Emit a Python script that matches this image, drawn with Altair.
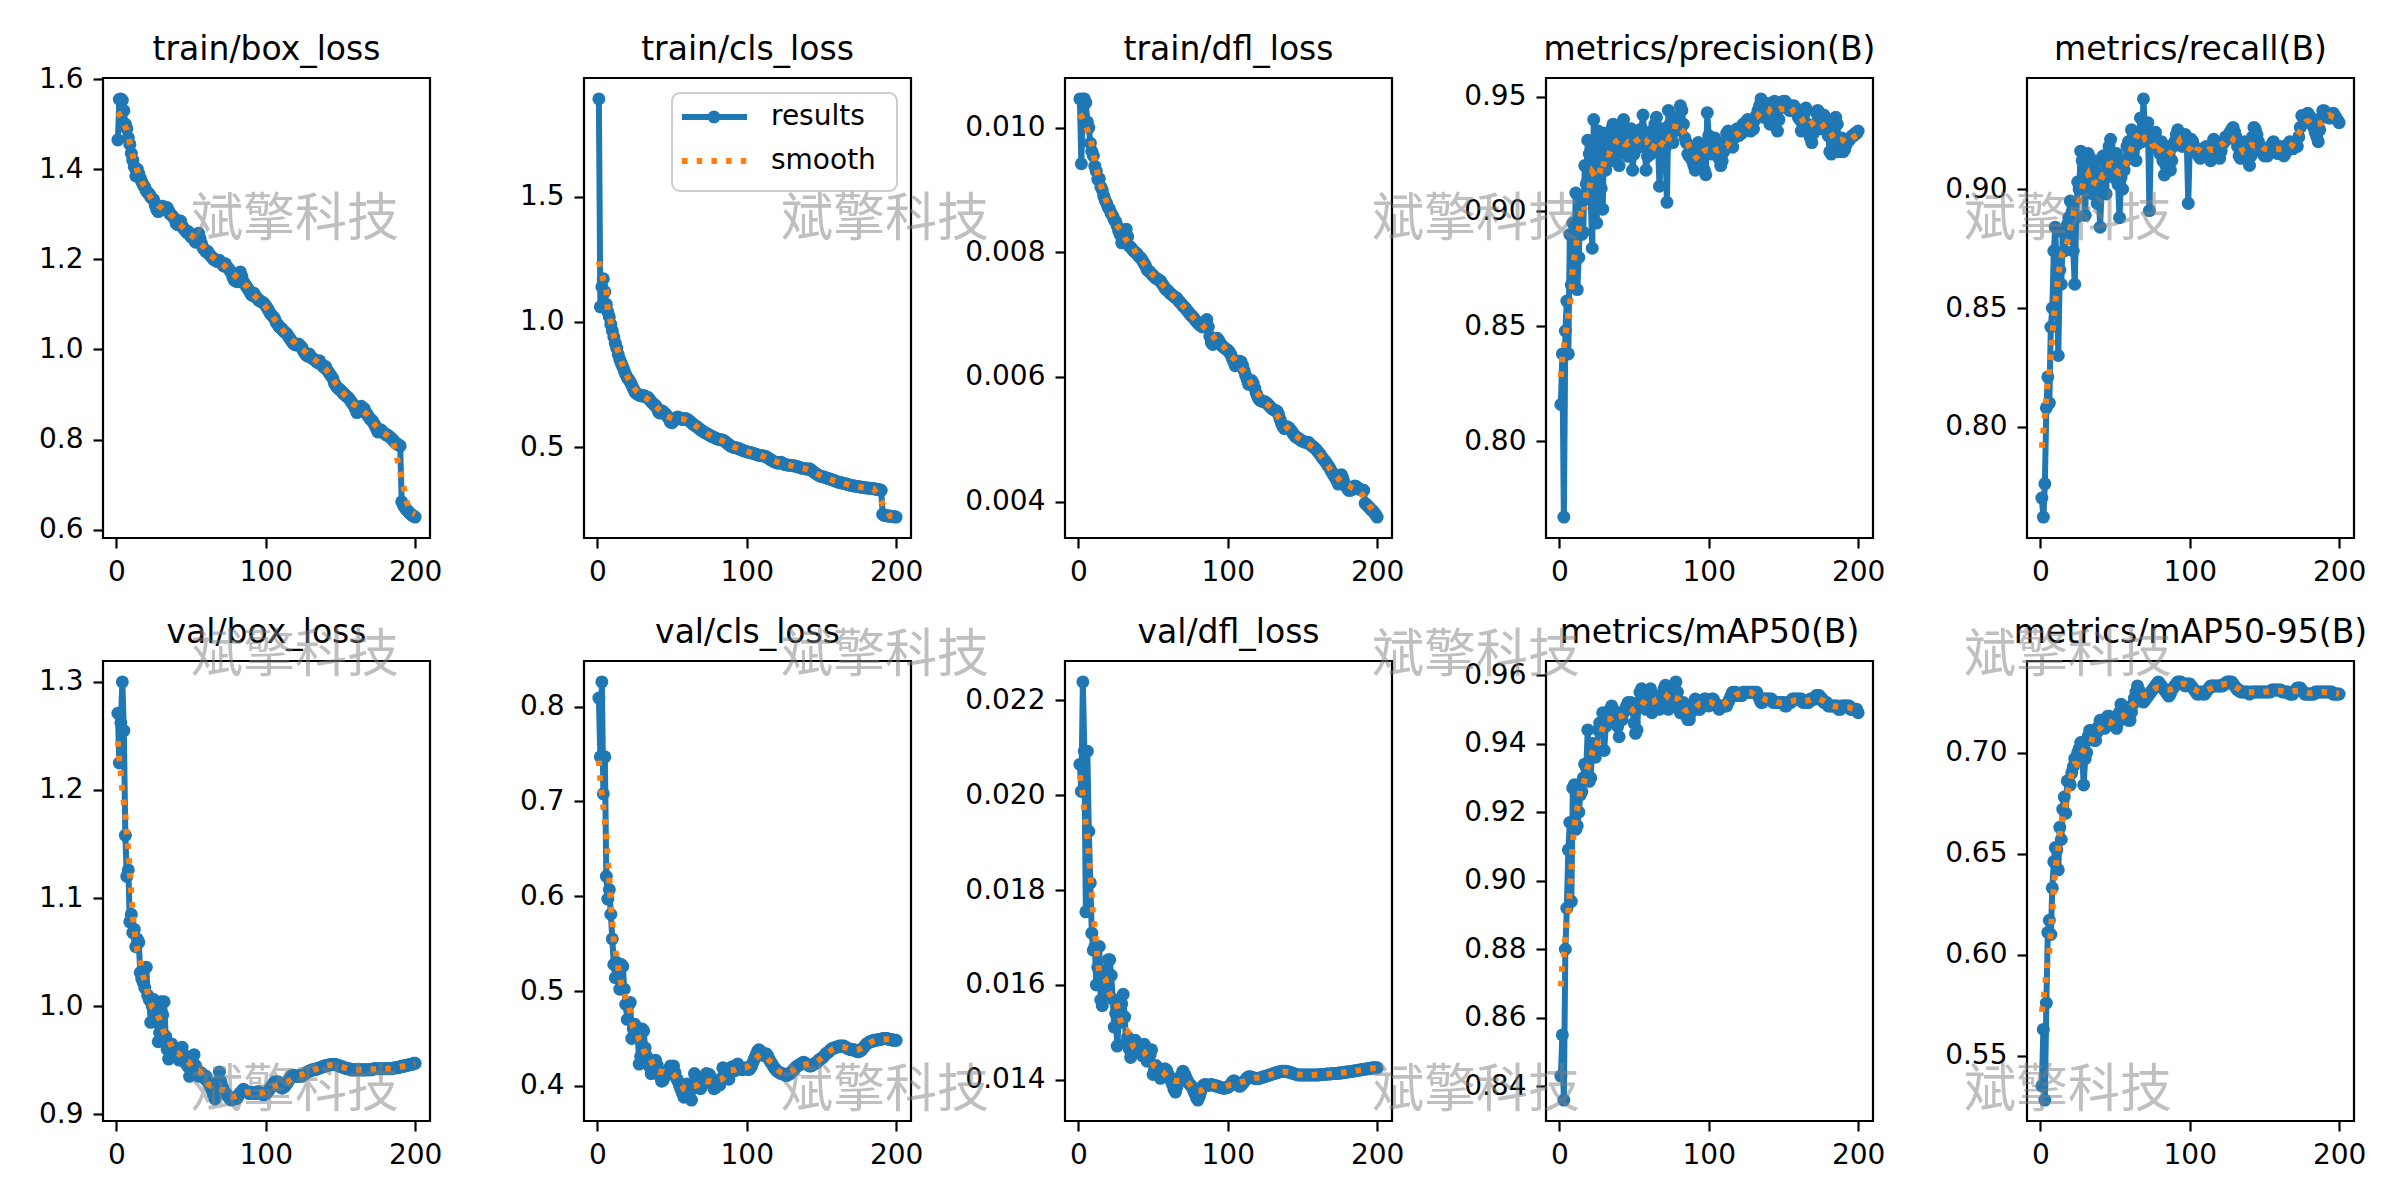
import altair as alt
import pandas as pd

epochs = list(range(1, 201))

train_box = [
    1.465, 1.555, 1.556, 1.553, 1.530, 1.500, 1.490, 1.470, 1.455, 1.435,
    1.420, 1.405, 1.385, 1.400, 1.390, 1.380, 1.372, 1.365, 1.360, 1.352,
    1.348, 1.345, 1.338, 1.335, 1.332, 1.320, 1.310, 1.306, 1.312, 1.318,
    1.318, 1.312, 1.310, 1.315, 1.308, 1.300, 1.298, 1.294, 1.290, 1.280,
    1.277, 1.285, 1.285, 1.275, 1.268, 1.265, 1.260, 1.262, 1.255, 1.250,
    1.248, 1.244, 1.238, 1.240, 1.258, 1.246, 1.235, 1.225, 1.222, 1.217,
    1.218, 1.212, 1.208, 1.205, 1.200, 1.200, 1.196, 1.195, 1.198, 1.193,
    1.188, 1.185, 1.190, 1.183, 1.180, 1.175, 1.170, 1.160, 1.153, 1.158,
    1.150, 1.155, 1.172, 1.162, 1.150, 1.145, 1.140, 1.135, 1.130, 1.123,
    1.120, 1.125, 1.118, 1.115, 1.110, 1.108, 1.106, 1.104, 1.102, 1.097,
    1.092, 1.086, 1.080, 1.076, 1.072, 1.068, 1.060, 1.055, 1.050, 1.048,
    1.045, 1.040, 1.038, 1.035, 1.030, 1.025, 1.020, 1.015, 1.012, 1.010,
    1.010, 1.012, 1.008, 1.005, 0.998, 0.992, 0.988, 0.985, 0.990, 0.985,
    0.980, 0.979, 0.976, 0.973, 0.970, 0.975, 0.968, 0.964, 0.960, 0.962,
    0.955, 0.950, 0.945, 0.940, 0.935, 0.925, 0.919, 0.915, 0.912, 0.910,
    0.906, 0.902, 0.900, 0.896, 0.894, 0.890, 0.885, 0.880, 0.876, 0.868,
    0.860, 0.866, 0.872, 0.874, 0.870, 0.868, 0.860, 0.855, 0.850, 0.845,
    0.843, 0.838, 0.832, 0.825, 0.817, 0.820, 0.822, 0.818, 0.815, 0.812,
    0.810, 0.809, 0.806, 0.803, 0.800, 0.796, 0.792, 0.790, 0.788, 0.786,
    0.662, 0.655, 0.650, 0.645, 0.642, 0.638, 0.635, 0.632, 0.630, 0.628,
]

train_cls = [
    1.890, 1.060, 1.140, 1.172, 1.120, 1.070, 1.040, 1.020, 0.990, 0.965,
    0.940, 0.915, 0.895, 0.870, 0.850, 0.835, 0.820, 0.805, 0.790, 0.778,
    0.770, 0.760, 0.748, 0.735, 0.722, 0.715, 0.712, 0.708, 0.706, 0.704,
    0.706, 0.702, 0.700, 0.698, 0.690, 0.682, 0.676, 0.670, 0.666, 0.655,
    0.640, 0.636, 0.645, 0.642, 0.636, 0.630, 0.622, 0.612, 0.600, 0.598,
    0.604, 0.612, 0.618, 0.620, 0.616, 0.614, 0.610, 0.612, 0.614, 0.611,
    0.608, 0.603, 0.598, 0.592, 0.588, 0.584, 0.580, 0.575, 0.570, 0.566,
    0.562, 0.558, 0.555, 0.552, 0.548, 0.545, 0.542, 0.540, 0.536, 0.534,
    0.532, 0.530, 0.530, 0.528, 0.525, 0.520, 0.515, 0.510, 0.506, 0.502,
    0.500, 0.499, 0.497, 0.496, 0.494, 0.490, 0.488, 0.486, 0.484, 0.482,
    0.480, 0.479, 0.478, 0.476, 0.474, 0.472, 0.470, 0.468, 0.467, 0.466,
    0.465, 0.464, 0.462, 0.458, 0.454, 0.450, 0.446, 0.443, 0.440, 0.438,
    0.436, 0.438, 0.440, 0.436, 0.432, 0.430, 0.429, 0.428, 0.428, 0.427,
    0.426, 0.425, 0.424, 0.422, 0.420, 0.418, 0.416, 0.415, 0.414, 0.413,
    0.412, 0.414, 0.410, 0.404, 0.400, 0.396, 0.392, 0.388, 0.385, 0.383,
    0.382, 0.380, 0.378, 0.376, 0.374, 0.372, 0.370, 0.368, 0.366, 0.363,
    0.361, 0.359, 0.358, 0.357, 0.355, 0.354, 0.352, 0.350, 0.349, 0.347,
    0.346, 0.345, 0.344, 0.343, 0.342, 0.341, 0.340, 0.339, 0.338, 0.337,
    0.337, 0.336, 0.336, 0.335, 0.334, 0.333, 0.332, 0.331, 0.330, 0.328,
    0.232, 0.228, 0.227, 0.226, 0.225, 0.224, 0.224, 0.223, 0.222, 0.221,
]

train_dfl = [
    .01046, .00942, .01046, .01046, .01040, .01009, .01000, .00975, .00962, .00955,
    .00938, .00930, .00917, .00918, .00905, .00900, .00890, .00883, .00878, .00872,
    .00868, .00862, .00858, .00852, .00849, .00842, .00834, .00828, .00815, .00825,
    .00830, .00837, .00825, .00810, .00808, .00805, .00802, .00800, .00798, .00795,
    .00792, .00790, .00786, .00782, .00778, .00772, .00770, .00768, .00765, .00763,
    .00760, .00758, .00757, .00755, .00754, .00750, .00746, .00742, .00740, .00738,
    .00735, .00733, .00731, .00729, .00727, .00726, .00722, .00720, .00717, .00714,
    .00712, .00709, .00706, .00703, .00700, .00698, .00695, .00692, .00689, .00686,
    .00684, .00682, .00680, .00684, .00688, .00692, .00680, .00665, .00655, .00652,
    .00656, .00660, .00662, .00658, .00654, .00650, .00648, .00646, .00644, .00643,
    .00640, .00636, .00630, .00624, .00618, .00620, .00622, .00625, .00624, .00618,
    .00610, .00602, .00595, .00588, .00590, .00594, .00590, .00582, .00574, .00568,
    .00564, .00562, .00561, .00560, .00560, .00558, .00556, .00553, .00550, .00548,
    .00547, .00546, .00545, .00540, .00532, .00525, .00520, .00517, .00519, .00520,
    .00518, .00515, .00512, .00508, .00505, .00503, .00502, .00500, .00498, .00497,
    .00496, .00495, .00495, .00495, .00492, .00490, .00488, .00486, .00484, .00481,
    .00478, .00475, .00471, .00468, .00465, .00462, .00458, .00455, .00450, .00446,
    .00442, .00438, .00434, .00428, .00432, .00443, .00438, .00430, .00425, .00421,
    .00418, .00418, .00419, .00422, .00425, .00424, .00422, .00420, .00419, .00418,
    .00418, .00397, .00395, .00392, .00390, .00387, .00385, .00382, .00379, .00375,
]

precision = [
    .816, .838, .767, .848, .861, .838, .890, .868, .895, .880,
    .908, .866, .880, .905, .890, .891, .920, .912, .931, .925,
    .905, .884, .940, .913, .895, .935, .928, .910, .901, .934,
    .918, .925, .930, .922, .936, .938, .931, .928, .925, .920,
    .935, .930, .940, .935, .928, .924, .930, .936, .918, .925,
    .930, .932, .928, .933, .936, .942, .930, .918, .924, .928,
    .925, .935, .932, .938, .941, .930, .911, .925, .936, .930,
    .928, .904, .944, .938, .933, .930, .935, .941, .938, .936,
    .946, .944, .938, .932, .930, .925, .924, .928, .922, .920,
    .918, .925, .930, .928, .923, .920, .918, .916, .943, .933,
    .930, .925, .928, .932, .926, .930, .923, .920, .922, .926,
    .930, .934, .935, .932, .931, .928, .932, .934, .936, .933,
    .935, .934, .938, .936, .939, .940, .938, .935, .937, .936,
    .940, .942, .944, .946, .949, .945, .941, .944, .947, .946,
    .938, .942, .946, .948, .944, .935, .940, .945, .947, .948,
    .948, .946, .945, .944, .946, .944, .946, .945, .943, .941,
    .940, .935, .937, .943, .945, .938, .935, .932, .930, .934,
    .938, .943, .944, .941, .936, .938, .942, .941, .937, .933,
    .926, .925, .930, .935, .941, .938, .926, .928, .932, .926,
    .927, .929, .931, .931, .932, .933, .933, .934, .934, .935,
]

recall = [
    .770, .762, .776, .808, .821, .810, .842, .850, .874, .884,
    .862, .830, .866, .860, .882, .874, .880, .885, .888, .895,
    .890, .874, .860, .888, .903, .900, .916, .912, .905, .889,
    .911, .915, .905, .900, .898, .907, .912, .894, .902, .884,
    .900, .914, .908, .898, .915, .918, .921, .912, .905, .910,
    .915, .902, .888, .905, .900, .908, .912, .918, .920, .916,
    .925, .922, .918, .912, .919, .922, .930, .920, .938, .924,
    .925, .928, .891, .920, .922, .918, .924, .921, .918, .915,
    .920, .912, .906, .910, .915, .918, .908, .912, .918, .920,
    .923, .925, .922, .920, .918, .922, .923, .920, .894, .918,
    .921, .920, .918, .916, .915, .914, .913, .915, .917, .916,
    .918, .916, .914, .912, .918, .921, .920, .918, .915, .913,
    .916, .919, .920, .922, .921, .922, .924, .925, .926, .924,
    .922, .918, .914, .913, .916, .918, .920, .915, .912, .910,
    .914, .922, .926, .925, .923, .920, .918, .916, .915, .914,
    .915, .914, .916, .918, .919, .920, .918, .916, .915, .917,
    .918, .916, .914, .915, .917, .919, .920, .918, .917, .919,
    .920, .918, .922, .926, .931, .930, .928, .929, .932, .931,
    .930, .928, .926, .924, .922, .920, .925, .930, .933, .933,
    .932, .931, .930, .930, .931, .932, .931, .930, .929, .928,
]

val_box = [
    1.271, 1.225, 1.262, 1.300, 1.255, 1.158, 1.120, 1.126, 1.078, 1.085,
    1.068, 1.071, 1.055, 1.062, 1.059, 1.031, 1.025, 1.022, 1.017, 1.036,
    1.010, 1.006, 0.985, 1.000, 1.006, 0.995, 0.990, 0.967, 0.975, 1.004,
    0.992, 1.004, 0.972, 0.960, 0.951, 0.955, 0.965, 0.962, 0.958, 0.953,
    0.955, 0.950, 0.958, 0.962, 0.955, 0.948, 0.946, 0.944, 0.935, 0.940,
    0.948, 0.955, 0.945, 0.940, 0.935, 0.937, 0.938, 0.935, 0.933, 0.935,
    0.930, 0.928, 0.925, 0.922, 0.918, 0.914, 0.920, 0.930, 0.939, 0.930,
    0.925, 0.921, 0.920, 0.918, 0.916, 0.914, 0.913, 0.914, 0.915, 0.914,
    0.915, 0.918, 0.920, 0.921, 0.923, 0.922, 0.921, 0.920, 0.919, 0.920,
    0.920, 0.919, 0.919, 0.920, 0.921, 0.920, 0.919, 0.918, 0.918, 0.919,
    0.920, 0.922, 0.924, 0.926, 0.928, 0.930, 0.929, 0.930, 0.927, 0.925,
    0.924, 0.925, 0.926, 0.928, 0.930, 0.933, 0.935, 0.936, 0.936, 0.935,
    0.935, 0.935, 0.936, 0.935, 0.936, 0.937, 0.938, 0.939, 0.940, 0.940,
    0.941, 0.941, 0.941, 0.942, 0.942, 0.943, 0.943, 0.944, 0.944, 0.945,
    0.945, 0.945, 0.946, 0.946, 0.946, 0.946, 0.946, 0.945, 0.945, 0.944,
    0.944, 0.943, 0.943, 0.942, 0.942, 0.942, 0.941, 0.941, 0.941, 0.941,
    0.941, 0.941, 0.941, 0.941, 0.941, 0.941, 0.941, 0.941, 0.941, 0.941,
    0.941, 0.942, 0.942, 0.942, 0.942, 0.942, 0.942, 0.942, 0.942, 0.942,
    0.942, 0.942, 0.942, 0.942, 0.942, 0.943, 0.943, 0.943, 0.943, 0.944,
    0.944, 0.944, 0.945, 0.945, 0.945, 0.946, 0.946, 0.946, 0.947, 0.947,
]

val_cls = [
    .809, .747, .826, .708, .747, .621, .597, .607, .581, .555,
    .528, .514, .530, .516, .502, .528, .526, .502, .486, .470,
    .486, .488, .450, .460, .465, .462, .455, .423, .431, .460,
    .458, .440, .431, .425, .420, .413, .418, .425, .427, .422,
    .415, .410, .405, .406, .410, .412, .415, .418, .421, .420,
    .421, .414, .408, .405, .400, .396, .392, .388, .397, .402,
    .398, .394, .385, .400, .413, .410, .402, .398, .397, .400,
    .405, .410, .413, .410, .412, .408, .402, .397, .398, .400,
    .402, .401, .408, .419, .418, .415, .410, .407, .414, .420,
    .418, .416, .422, .423, .420, .418, .417, .418, .419, .418,
    .417, .418, .420, .424, .428, .432, .436, .438, .437, .434,
    .432, .433, .434, .432, .428, .425, .423, .420, .418, .416,
    .415, .414, .413, .413, .412, .411, .411, .412, .413, .415,
    .416, .418, .420, .421, .422, .423, .424, .425, .424, .423,
    .422, .421, .421, .422, .423, .424, .425, .427, .428, .429,
    .430, .432, .434, .435, .436, .438, .439, .440, .440, .441,
    .441, .442, .442, .442, .442, .441, .440, .439, .439, .438,
    .438, .438, .437, .436, .436, .437, .438, .440, .442, .444,
    .445, .446, .447, .447, .448, .448, .448, .449, .449, .449,
    .450, .450, .450, .450, .449, .449, .449, .448, .448, .448,
]

val_dfl = [
    .02065, .02008, .02239, .02093, .01754, .02093, .01924, .01815, .01709, .01673,
    .01681, .01600, .01637, .01681, .01568, .01556, .01600, .01629, .01580, .01653,
    .01653, .01620, .01570, .01511, .01540, .01471, .01520, .01545, .01560, .01580,
    .01532, .01479, .01490, .01465, .01447, .01460, .01475, .01483, .01475, .01468,
    .01460, .01455, .01450, .01475, .01460, .01439, .01445, .01452, .01463, .01411,
    .01420, .01430, .01425, .01415, .01403, .01410, .01418, .01423, .01420, .01412,
    .01405, .01398, .01390, .01380, .01374, .01385, .01395, .01405, .01410, .01418,
    .01412, .01405, .01398, .01392, .01389, .01385, .01378, .01370, .01362, .01357,
    .01365, .01375, .01385, .01389, .01390, .01389, .01388, .01389, .01390, .01389,
    .01388, .01387, .01386, .01385, .01384, .01383, .01382, .01382, .01383, .01384,
    .01386, .01390, .01395, .01398, .01396, .01392, .01388, .01386, .01388, .01392,
    .01396, .01400, .01404, .01406, .01406, .01405, .01404, .01403, .01402, .01402,
    .01403, .01404, .01405, .01406, .01407, .01408, .01409, .01410, .01411, .01412,
    .01413, .01414, .01415, .01416, .01417, .01418, .01418, .01418, .01418, .01417,
    .01416, .01415, .01414, .01413, .01412, .01411, .01410, .01410, .01410, .01410,
    .01410, .01410, .01410, .01410, .01410, .01410, .01410, .01410, .01410, .01410,
    .01410, .01411, .01411, .01411, .01411, .01412, .01412, .01412, .01412, .01413,
    .01413, .01413, .01413, .01414, .01414, .01414, .01415, .01415, .01416, .01416,
    .01417, .01417, .01418, .01418, .01419, .01419, .01420, .01420, .01421, .01421,
    .01422, .01422, .01423, .01423, .01424, .01424, .01425, .01425, .01425, .01425,
]

map50 = [
    .843, .855, .836, .880, .892, .909, .917, .894, .927, .928,
    .915, .916, .920, .925, .926, .930, .934, .933, .944, .929,
    .930, .940, .937, .936, .938, .944, .946, .946, .949, .938,
    .945, .948, .949, .950, .951, .950, .948, .946, .945, .942,
    .948, .947, .949, .950, .951, .952, .951, .952, .950, .946,
    .943, .944, .952, .955, .956, .954, .952, .950, .952, .955,
    .956, .949, .952, .954, .953, .951, .950, .952, .954, .956,
    .957, .953, .950, .952, .955, .956, .957, .958, .955, .951,
    .949, .950, .952, .950, .948, .947, .947, .949, .951, .952,
    .953, .951, .950, .950, .951, .952, .953, .953, .952, .951,
    .952, .953, .953, .952, .951, .951, .950, .951, .951, .951,
    .951, .951, .952, .953, .954, .955, .955, .955, .954, .954,
    .954, .954, .955, .955, .955, .955, .955, .955, .955, .955,
    .955, .955, .954, .953, .952, .952, .953, .953, .953, .953,
    .953, .953, .952, .952, .952, .952, .952, .952, .952, .952,
    .951, .951, .952, .952, .952, .953, .953, .953, .953, .953,
    .953, .953, .952, .952, .952, .952, .952, .953, .953, .953,
    .953, .954, .954, .954, .953, .953, .952, .952, .952, .951,
    .951, .951, .951, .951, .951, .951, .950, .950, .951, .951,
    .951, .951, .951, .951, .950, .950, .950, .950, .950, .949,
]

map50_95 = [
    .535, .563, .528, .576, .611, .617, .610, .633, .646, .653,
    .652, .642, .663, .657, .672, .678, .670, .686, .686, .684,
    .690, .693, .697, .696, .700, .702, .705, .698, .684, .697,
    .700, .708, .711, .711, .708, .706, .706, .710, .713, .716,
    .716, .713, .712, .715, .718, .718, .717, .716, .714, .713,
    .712, .715, .720, .724, .722, .720, .720, .718, .716, .716,
    .720, .724, .727, .730, .733, .731, .728, .726, .725, .726,
    .727, .728, .729, .730, .731, .732, .733, .734, .735, .734,
    .733, .732, .731, .730, .729, .728, .729, .731, .732, .733,
    .734, .735, .735, .735, .734, .734, .733, .734, .734, .734,
    .733, .732, .731, .730, .729, .729, .730, .730, .729, .729,
    .730, .731, .732, .733, .733, .733, .733, .733, .733, .733,
    .733, .733, .734, .734, .735, .735, .735, .735, .734, .733,
    .732, .731, .731, .730, .730, .730, .730, .730, .730, .729,
    .730, .730, .730, .730, .730, .730, .730, .730, .730, .730,
    .730, .730, .730, .730, .731, .731, .731, .731, .731, .731,
    .731, .730, .730, .730, .730, .730, .729, .729, .729, .730,
    .731, .732, .732, .732, .731, .730, .729, .729, .729, .729,
    .729, .729, .729, .730, .730, .730, .730, .730, .730, .730,
    .730, .730, .730, .730, .730, .729, .729, .729, .729, .729,
]

titles = [
    "train/box_loss", "train/cls_loss", "train/dfl_loss",
    "metrics/precision(B)", "metrics/recall(B)",
    "val/box_loss", "val/cls_loss", "val/dfl_loss",
    "metrics/mAP50(B)", "metrics/mAP50-95(B)",
]
series = [train_box, train_cls, train_dfl, precision, recall,
          val_box, val_cls, val_dfl, map50, map50_95]
y_ticks = [
    [0.6, 0.8, 1.0, 1.2, 1.4, 1.6],
    [0.5, 1.0, 1.5],
    [0.004, 0.006, 0.008, 0.010],
    [0.80, 0.85, 0.90, 0.95],
    [0.80, 0.85, 0.90],
    [0.9, 1.0, 1.1, 1.2, 1.3],
    [0.4, 0.5, 0.6, 0.7, 0.8],
    [0.014, 0.016, 0.018, 0.020, 0.022],
    [0.84, 0.86, 0.88, 0.90, 0.92, 0.94, 0.96],
    [0.55, 0.60, 0.65, 0.70],
]
y_formats = [".1f", ".1f", ".3f", ".2f", ".2f", ".1f", ".1f", ".3f", ".2f", ".2f"]
x_ticks = [0, 100, 200]

legend_labels = ["results", "smooth"]
watermark = "斌擎科技"

BLUE = "#1f77b4"
ORANGE = "#ff7f0e"
FONT = "DejaVu Sans"
W, H = 327, 460
LW = 6
DOT = 169
DASH = [5.5, 9.2]


def one_row():
    return alt.Data(values=[{}])


def panel(i):
    vals = series[i]
    df = pd.DataFrame({"epoch": epochs, "value": vals})
    lo, hi = min(vals), max(vals)
    pad = 0.05 * (hi - lo)
    xscale = alt.Scale(domain=[-8.95, 209.95], nice=False, zero=False)
    yscale = alt.Scale(domain=[lo - pad, hi + pad], nice=False, zero=False)
    xax = alt.Axis(values=x_ticks, format="d", title=None)
    yax = alt.Axis(values=y_ticks[i], format=y_formats[i], title=None)

    base = alt.Chart(df)
    line = base.mark_line(color=BLUE, strokeWidth=LW, strokeJoin="round").encode(
        x=alt.X("epoch:Q", scale=xscale, axis=xax),
        y=alt.Y("value:Q", scale=yscale, axis=yax),
    )
    dots = base.mark_circle(color=BLUE, size=DOT, opacity=1).encode(
        x=alt.X("epoch:Q", scale=xscale, axis=xax),
        y=alt.Y("value:Q", scale=yscale, axis=yax),
    )
    smooth = base.transform_window(
        smooth="mean(value)", frame=[-5, 5], sort=[alt.SortField("epoch")]
    ).mark_line(color=ORANGE, strokeWidth=LW, strokeDash=DASH).encode(
        x=alt.X("epoch:Q", scale=xscale, axis=xax),
        y=alt.Y("smooth:Q", scale=yscale, axis=yax),
    )
    title = alt.Chart(one_row()).mark_text(
        text=titles[i], align="center", baseline="alphabetic",
        font=FONT, fontSize=33, color="black",
    ).encode(x=alt.value(W / 2), y=alt.value(-18))
    layers = [line, dots, smooth, title]

    if i == 0:
        # invisible anchor that pins the figure's top-left corner
        anchor = alt.Chart(one_row()).mark_rect(opacity=0).encode(
            x=alt.value(-93), x2=alt.value(0), y=alt.value(-68), y2=alt.value(0))
        layers.append(anchor)

    if i == 1:
        # legend box inside train/cls_loss
        box = alt.Chart(one_row()).mark_rect(
            fill="white", fillOpacity=0.8, stroke="#cccccc", strokeWidth=2, cornerRadius=8
        ).encode(x=alt.value(88), x2=alt.value(313), y=alt.value(15), y2=alt.value(113))
        r1 = alt.Chart(one_row()).mark_rule(color=BLUE, strokeWidth=LW).encode(
            x=alt.value(98), x2=alt.value(163), y=alt.value(39))
        d1 = alt.Chart(one_row()).mark_circle(color=BLUE, size=DOT, opacity=1).encode(
            x=alt.value(130), y=alt.value(39))
        r2 = alt.Chart(one_row()).mark_rule(color=ORANGE, strokeWidth=LW, strokeDash=DASH).encode(
            x=alt.value(98), x2=alt.value(163), y=alt.value(83))
        t1 = alt.Chart(one_row()).mark_text(
            align="left", baseline="middle", fontSize=28, font=FONT, color="black"
        ).encode(x=alt.value(187), y=alt.value(39), text=alt.value(legend_labels[0]))
        t2 = alt.Chart(one_row()).mark_text(
            align="left", baseline="middle", fontSize=28, font=FONT, color="black"
        ).encode(x=alt.value(187), y=alt.value(83), text=alt.value(legend_labels[1]))
        layers += [box, r1, d1, r2, t1, t2]

    if i == 9:
        # watermark grid, drawn last so it sits on top of every panel
        for wy in [-441, -5, 430]:
            for wx in [-1836, -1246, -655, -63]:
                layers.append(
                    alt.Chart(one_row()).mark_text(
                        text=watermark, align="left", baseline="middle",
                        font="Noto Sans CJK SC", fontSize=52, color="#808080", opacity=0.5,
                    ).encode(x=alt.value(wx), y=alt.value(wy))
                )

    return alt.layer(*layers).properties(width=W, height=H)


chart = alt.concat(
    *[panel(i) for i in range(10)],
    columns=5,
    spacing={"row": 123, "column": 154},
    bounds="flush",
).properties(
    padding={"left": 0, "top": 0, "right": 10, "bottom": 10},
    background="white",
).configure_view(
    stroke="black", strokeWidth=2.2
).configure_axis(
    domain=False, grid=False, tickColor="black", tickWidth=2.2, tickSize=10,
    labelFont=FONT, labelFontSize=28, labelColor="black",
).configure_axisX(labelPadding=10).configure_axisY(labelPadding=10)

chart.save("out.html", embed_options={"renderer": "svg", "actions": False})
